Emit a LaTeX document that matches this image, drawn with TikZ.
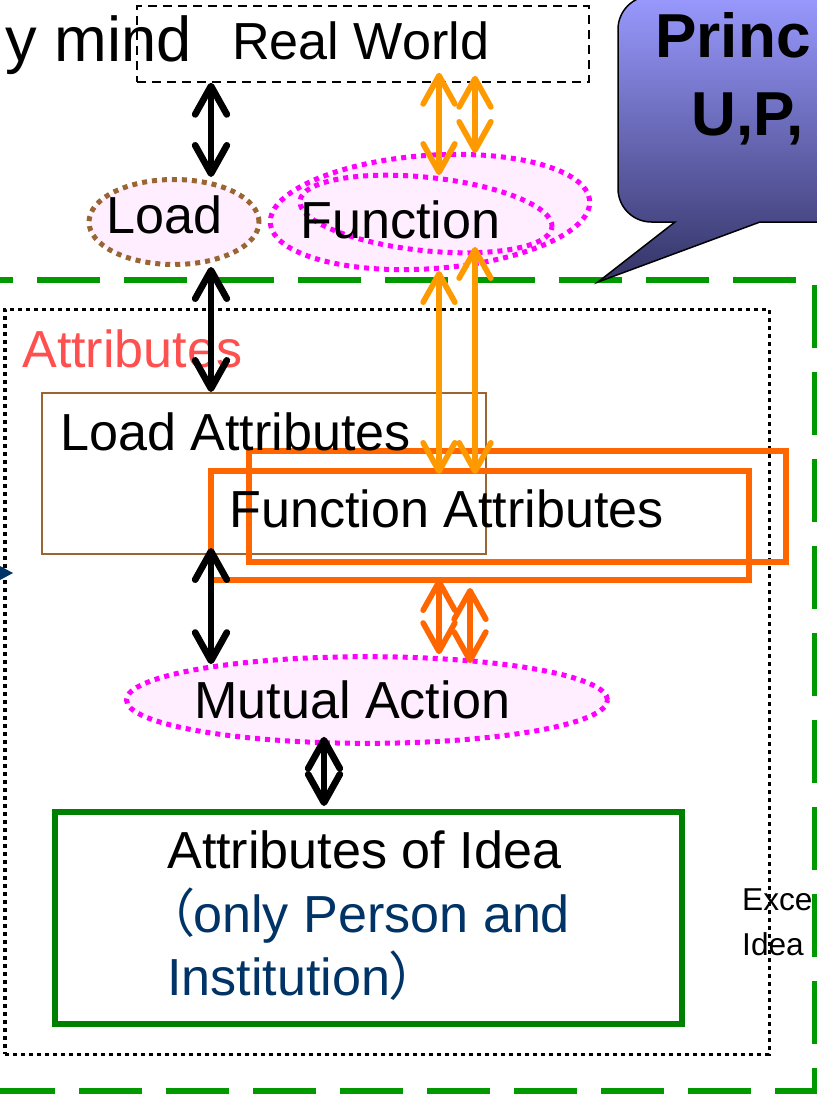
\documentclass[tikz,border=0pt]{standalone}
\usepackage{fontspec}
\setmainfont{Liberation Sans}
\newfontfamily\jpfont[RawFeature=+palt]{Noto Sans CJK JP}
\usetikzlibrary{arrows.meta,fit,shapes.geometric,calc}

\definecolor{lineGreen}{RGB}{0,153,0}
\definecolor{boxGreen}{RGB}{0,128,0}
\definecolor{loadBrown}{RGB}{153,102,51}
\definecolor{fnMagenta}{RGB}{255,0,255}
\definecolor{softPink}{RGB}{255,238,255}
\definecolor{amber}{RGB}{255,153,0}
\definecolor{deepOrange}{RGB}{255,102,0}
\definecolor{attrRed}{RGB}{255,80,80}
\definecolor{noteNavy}{RGB}{0,51,102}
\definecolor{bubbleTop}{RGB}{153,153,255}
\definecolor{bubbleBot}{RGB}{51,51,102}

\tikzset{
  txt/.style={inner sep=0pt, anchor=base west, font=\fontsize{44.5}{52}\selectfont},
  blob/.style={ellipse, inner sep=0pt, fill=softPink, line width=1.5mm, dash pattern=on 1.5mm off 1.5mm},
  frame/.style={rectangle, inner sep=0pt},
  link/.style={<->, line width=2mm},
  thinlink/.style={<->, line width=1.7mm},
}

\begin{document}
\begin{tikzpicture}[x=0.03cm, y=-0.03cm, >={Straight Barb[round,length=8.5mm,width=9.5mm]}]
\useasboundingbox (0,0) rectangle (817,1097);
\clip (0,0) rectangle (817,1097);

% outer dashed frame and the attributes area
\draw[lineGreen, line width=1.8mm, dash pattern=on 1.89cm off 0.72cm] (-50,280) -- (815,280) -- (815,1091) -- (-50,1091);
\node[frame, draw, line width=0.9mm, dash pattern=on 1.2mm off 1.2mm, fit={(5,309) (769,1054)}] (attrBox) {};

% speech bubble
\shade[draw=black, line width=0.45mm, top color=bubbleTop, bottom color=bubbleBot]
  (598,282) -- (675,222) [rounded corners=1cm] -- (618,222) -- (618,-4) -- (900,-4) -- (900,222) [sharp corners] -- (760,222) -- cycle;
\node[txt, font=\fontsize{53}{60}\selectfont\bfseries] (bubbleA) at (655,58) {Princ};
\node[txt, font=\fontsize{53}{60}\selectfont\bfseries] (bubbleB) at (691,135) {U,P,};

\node[frame, draw, line width=0.45mm, dash pattern=on 2.7mm off 1.8mm, fit={(137,6) (589,82)}] (realWorld) {};

\node[blob, draw=loadBrown, minimum width=5.1cm, minimum height=2.55cm] (load) at (174,222) {};
\node[blob, draw=fnMagenta, minimum width=9.6cm, minimum height=3.4cm, rotate=4] (fnOuter) at (430,212) {};
\node[blob, draw=fnMagenta, minimum width=7.6cm, minimum height=2.2cm, rotate=-6] (fnInner) at (426,214) {};
\node[blob, draw=fnMagenta, minimum width=14.43cm, minimum height=2.6cm] (mutual) at (367,700) {};

\node[frame, draw=loadBrown, line width=0.6mm, fit={(42,393) (486,554)}] (laBox) {};
\node[frame, draw=deepOrange, line width=1.8mm, fit={(211,471) (749,580)}] (faBoxA) {};
\node[frame, draw=deepOrange, line width=1.8mm, fit={(249,451) (786,562)}] (faBoxB) {};
\node[frame, draw=boxGreen, line width=1.8mm, fit={(55,812) (682,1024)}] (ideaBox) {};

\node[txt, anchor=base east, font=\fontsize{54}{60}\selectfont] (mindText) at (192,62) {y mind};
\node[txt] (rwText) at (232,60) {Real World};
\node[txt] (loadText) at (106,233) {Load};
\node[txt] (fnText) at (300,238) {Function};
\node[txt, text=attrRed] (attrText) at (22,367) {Attributes};
\node[txt] (laText) at (60,450) {Load Attributes};
\node[txt] (faText) at (229,527) {Function Attributes};
\node[txt] (maText) at (194,718) {Mutual Action};
\node[txt] (ideaText) at (167,868) {Attributes of Idea};
\node[txt, text=noteNavy] (ideaNote) at (167,932) {{\jpfont （}only Person and};
\node[txt, text=noteNavy] (ideaNoteB) at (167,995) {Institution{\jpfont ）}};
\node[txt, font=\fontsize{27}{32}\selectfont] (exText) at (742,910) {Exce};
\node[txt, font=\fontsize{27}{32}\selectfont] (exTextB) at (742,955) {Idea};

\fill[noteNavy] (0,566) -- (13,573) -- (0,580) -- cycle;

% columns of the arrows
\coordinate (colL) at (211,0);
\coordinate (colA) at (439,0);
\coordinate (colB) at (475,0);
\coordinate (colC) at (470,0);
\coordinate (colM) at (324,0);

\draw[link] (realWorld.south -| colL) -- (load.north -| colL);
\draw[link] (load.south -| colL) -- (laBox.north -| colL);
\draw[link] ($(laBox.south -| colL)+(0,-7)$) -- ($(mutual.north -| colL)+(0,10)$);
\draw[thinlink, amber] ($(realWorld.south -| colA)+(0,-10)$) -- (fnInner.north -| colA);
\draw[thinlink, amber] ($(realWorld.south -| colB)+(0,-7)$) -- (fnOuter.north -| colB);
\draw[thinlink, amber] (fnOuter.south -| colA) -- ($(faBoxA.north -| colA)+(0,6)$);
\draw[thinlink, amber] ($(fnInner.south -| colB)+(0,-6)$) -- ($(faBoxA.north -| colB)+(0,6)$);
\draw[thinlink, deepOrange] ($(faBoxA.south -| colA)+(0,-4)$) -- (mutual.north -| colA);
\draw[thinlink, deepOrange] ($(faBoxA.south -| colC)+(0,5)$) -- ($(mutual.north -| colC)+(0,9)$);
\draw[link] ($(mutual.south -| colM)+(0,-9)$) -- ($(ideaBox.north -| colM)+(0,-3)$);
\end{tikzpicture}
\end{document}
